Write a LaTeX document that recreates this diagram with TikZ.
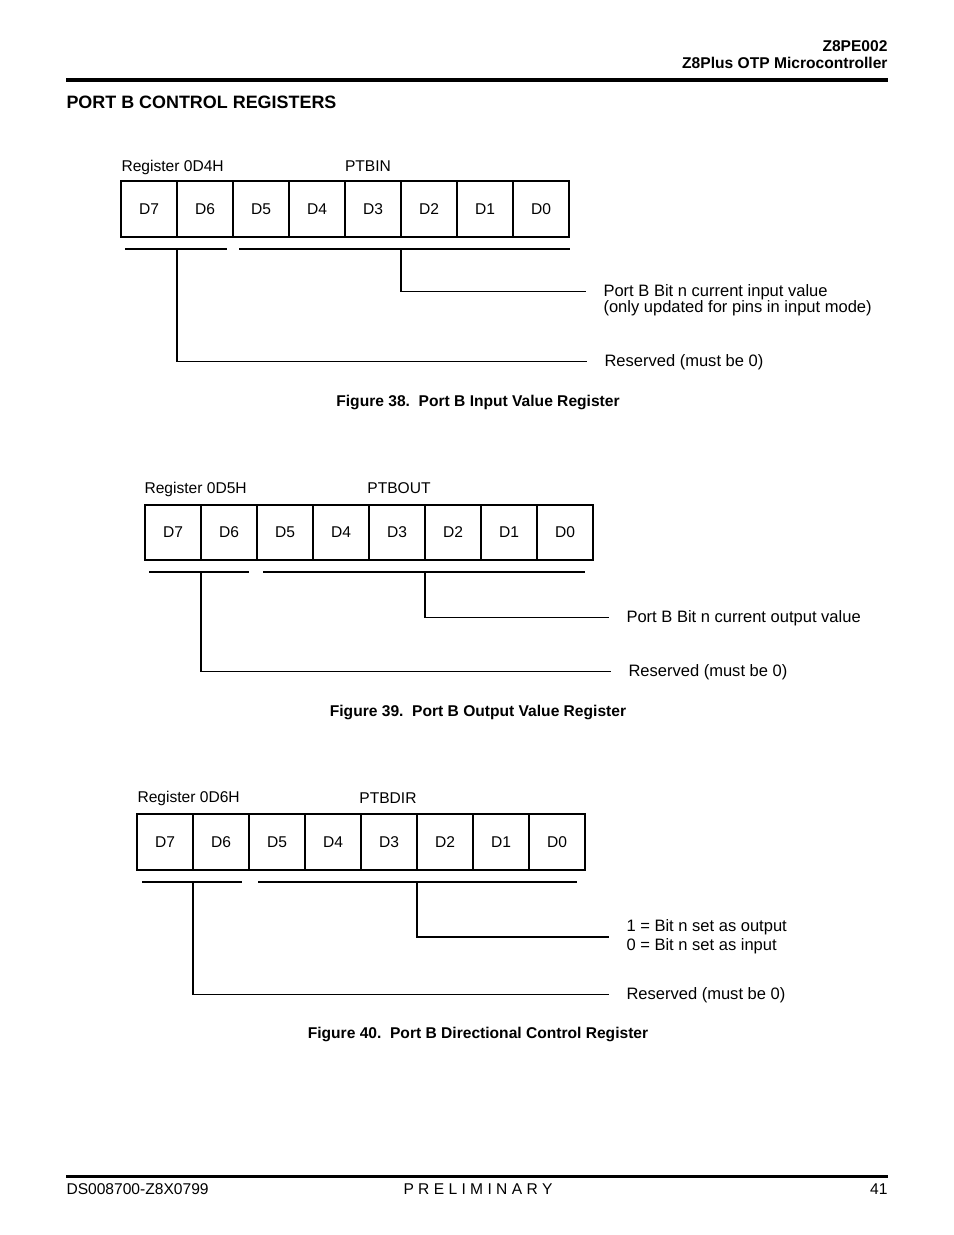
\documentclass[tikz,border=0pt]{standalone}
\usepackage{fontspec}
\setmainfont{Liberation Sans}

\begin{document}
\begin{tikzpicture}[x=0.6415pt,y=-0.6415pt,
		every node/.style={font=\fontsize{10}{12}\selectfont},
		bitcell/.style={draw,line width=1.1pt,minimum width=35.92pt,minimum height=35.6pt,inner sep=0pt,outer sep=0pt},
		txt/.style={anchor=base west},
		desc/.style={font=\fontsize{10.6}{12}\selectfont},
		hdr/.style={font=\fontsize{10}{12}\selectfont\bfseries},
		capt/.style={anchor=base,font=\fontsize{10}{12}\selectfont\bfseries},
		lead/.style={line width=0.7pt,shorten >=8pt},
		brk/.style={line width=0.7pt},
		rule/.style={line width=2.4pt}]
			\fill[white] (0,0) rectangle (954,1235);

			\node[hdr,anchor=base east] (chip) at (893,51) {Z8PE002};
			\node[hdr,anchor=base east] (chipname) at (893,68) {Z8Plus OTP Microcontroller};
			\draw[rule] (66,80) -- (888,80);
			\node[anchor=base west,font=\fontsize{11.5}{14}\selectfont\bfseries] (title) at (61,108) {PORT B CONTROL REGISTERS};

			\node[txt] (inReg) at (116,171) {Register 0D4H};
			\node[anchor=base] (inName) at (368,171) {PTBIN};
			\node[bitcell] (inD7) at (149,209) {D7};
			\node[bitcell] (inD6) at (205,209) {D6};
			\node[bitcell] (inD5) at (261,209) {D5};
			\node[bitcell] (inD4) at (317,209) {D4};
			\node[bitcell] (inD3) at (373,209) {D3};
			\node[bitcell] (inD2) at (429,209) {D2};
			\node[bitcell] (inD1) at (485,209) {D1};
			\node[bitcell] (inD0) at (541,209) {D0};
			\coordinate (inResL) at (125,249);
			\coordinate (inResR) at (227,249);
			\coordinate (inValL) at (239,249);
			\coordinate (inValR) at (570,249);
			\node[txt,desc] (inVal) at (598,296) {Port B Bit n current input value};
			\node[txt,desc] (inNote) at (598,312) {(only updated for pins in input mode)};
			\node[txt,desc] (inRes) at (599,366) {Reserved (must be 0)};
			\draw[brk] (inResL) -- (inResR);
			\draw[brk] (inValL) -- (inValR);
			\draw[lead] (inD3.south east |- inValL) |- (inVal.west);
			\draw[lead] (inD7.south east |- inResL) |- (inRes.west);
			\node[capt] (inCap) at (478,406) {Figure 38.\ \ Port B Input Value Register};

			\node[txt] (outReg) at (139,493) {Register 0D5H};
			\node[anchor=base] (outName) at (399,493) {PTBOUT};
			\node[bitcell] (outD7) at (173,532.5) {D7};
			\node[bitcell] (outD6) at (229,532.5) {D6};
			\node[bitcell] (outD5) at (285,532.5) {D5};
			\node[bitcell] (outD4) at (341,532.5) {D4};
			\node[bitcell] (outD3) at (397,532.5) {D3};
			\node[bitcell] (outD2) at (453,532.5) {D2};
			\node[bitcell] (outD1) at (509,532.5) {D1};
			\node[bitcell] (outD0) at (565,532.5) {D0};
			\coordinate (outResL) at (149,572);
			\coordinate (outResR) at (249,572);
			\coordinate (outValL) at (263,572);
			\coordinate (outValR) at (585,572);
			\node[txt,desc] (outVal) at (621,622) {Port B Bit n current output value};
			\node[txt,desc] (outRes) at (623,676) {Reserved (must be 0)};
			\draw[brk] (outResL) -- (outResR);
			\draw[brk] (outValL) -- (outValR);
			\draw[lead] (outD3.south east |- outValL) |- (outVal.west);
			\draw[lead] (outD7.south east |- outResL) |- (outRes.west);
			\node[capt] (outCap) at (478,716) {Figure 39.\ \ Port B Output Value Register};

			\node[txt] (dirReg) at (132,802) {Register 0D6H};
			\node[anchor=base] (dirName) at (388,803) {PTBDIR};
			\node[bitcell] (dirD7) at (165,842) {D7};
			\node[bitcell] (dirD6) at (221,842) {D6};
			\node[bitcell] (dirD5) at (277,842) {D5};
			\node[bitcell] (dirD4) at (333,842) {D4};
			\node[bitcell] (dirD3) at (389,842) {D3};
			\node[bitcell] (dirD2) at (445,842) {D2};
			\node[bitcell] (dirD1) at (501,842) {D1};
			\node[bitcell] (dirD0) at (557,842) {D0};
			\coordinate (dirResL) at (142,882);
			\coordinate (dirResR) at (242,882);
			\coordinate (dirValL) at (258,882);
			\coordinate (dirValR) at (577,882);
			\node[desc,anchor=west,align=left] (dirVal) at (621,937) {1 = Bit n set as output\\0 = Bit n set as input};
			\node[txt,desc] (dirRes) at (621,999) {Reserved (must be 0)};
			\draw[brk] (dirResL) -- (dirResR);
			\draw[brk] (dirValL) -- (dirValR);
			\draw[lead] (dirD3.south east |- dirValL) |- (dirVal.west);
			\draw[lead] (dirD7.south east |- dirResL) |- (dirRes.west);
			\node[capt] (dirCap) at (478,1038) {Figure 40.\ \ Port B Directional Control Register};

			\draw[rule] (66,1176.5) -- (888,1176.5);
			\node[txt] (docnum) at (61,1194) {DS008700-Z8X0799};
			\node[anchor=base] (prelim) at (478,1194) {P R E L I M I N A R Y};
			\node[anchor=base east] (page) at (893,1194) {41};
		\end{tikzpicture}
\end{document}
